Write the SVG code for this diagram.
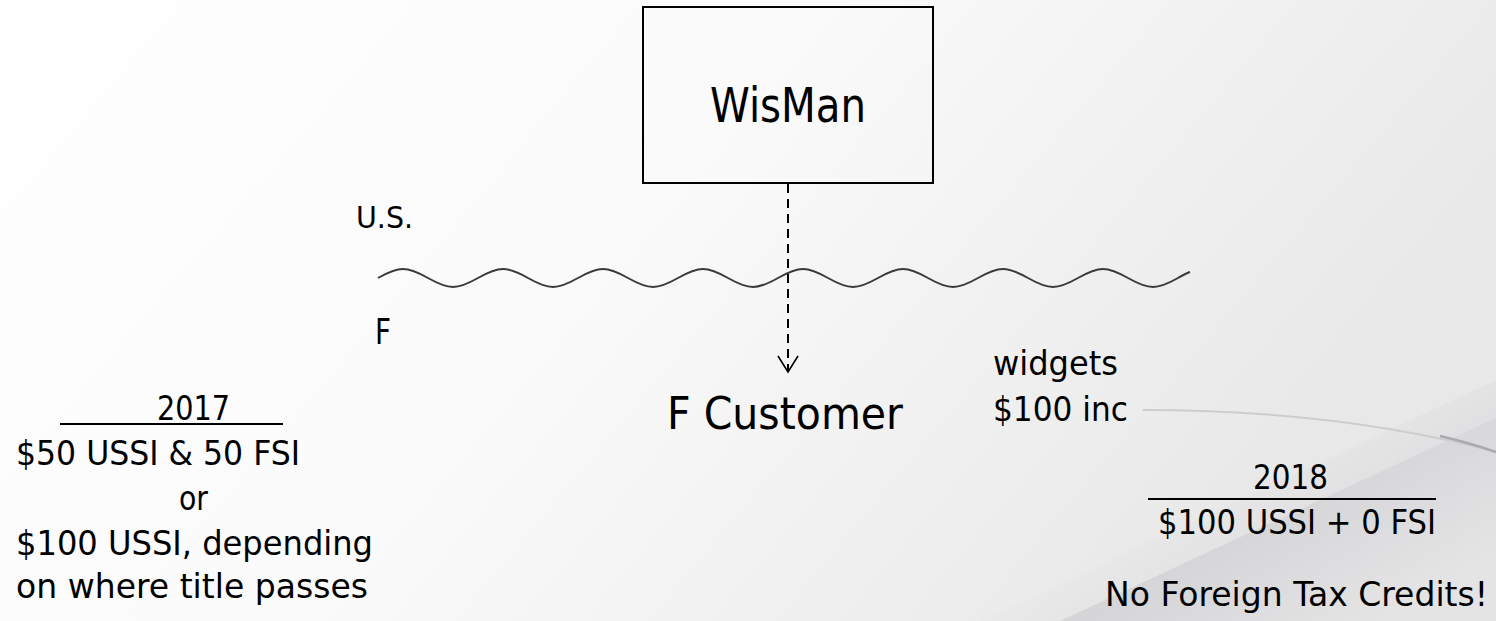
<svg xmlns="http://www.w3.org/2000/svg" width="1496" height="621" viewBox="0 0 1496 621">
  <defs>
    <linearGradient id="bg" x1="0" y1="0" x2="1" y2="0.35">
      <stop offset="0" stop-color="#ffffff"/>
      <stop offset="0.5" stop-color="#fafafa"/>
      <stop offset="1" stop-color="#e8e8e9"/>
    </linearGradient>
    <linearGradient id="band" gradientUnits="userSpaceOnUse" x1="1270" y1="520" x2="1340" y2="640">
      <stop offset="0" stop-color="#d6d6d9"/>
      <stop offset="1" stop-color="#e4e4e5"/>
    </linearGradient>
    <linearGradient id="upper" gradientUnits="userSpaceOnUse" x1="1150" y1="380" x2="1260" y2="560">
      <stop offset="0" stop-color="#f2f2f2" stop-opacity="0"/>
      <stop offset="1" stop-color="#dedee0" stop-opacity="0.8"/>
    </linearGradient>
    <marker id="openArrow" viewBox="0 0 18 22" refX="16" refY="11" markerWidth="18" markerHeight="22" markerUnits="userSpaceOnUse" orient="auto" overflow="visible">
      <path d="M0,1 L16,11 L0,21" fill="none" stroke="#000" stroke-width="1.6"/>
    </marker>
    <style>
      text { font-family: "DejaVu Sans", "Liberation Sans", sans-serif; fill: #000; }
      .node { fill: none; stroke: #000; stroke-width: 2; }
      .conn { fill: none; stroke: #000; stroke-width: 2; stroke-dasharray: 9 6; }
      .wave { fill: none; stroke: #3a3a3a; stroke-width: 2; }
      .rule { stroke: #000; stroke-width: 2; }
      .big { font-size: 34px; }
    </style>
  </defs>

  <!-- background -->
  <g id="background">
    <rect x="0" y="0" width="1496" height="621" fill="url(#bg)"/>
    <polygon points="980,621 1496,380 1496,621" fill="url(#upper)"/>
    <polygon points="1060,621 1496,418 1496,621" fill="url(#band)"/>
    <path d="M1143,410 Q1340,410 1496,452" fill="none" stroke="#cdcdcf" stroke-width="2"/>
    <path d="M1440,436 Q1470,443 1496,452" fill="none" stroke="#aaaaad" stroke-width="2.5"/>
  </g>

  <!-- border line U.S. / F -->
  <g id="border">
    <path class="wave" d="M378,278 C399.2,266 406.8,266 428,278 S456.8,290 478,278 S506.8,266 528,278 S556.8,290 578,278 S606.8,266 628,278 S656.8,290 678,278 S706.8,266 728,278 S756.8,290 778,278 S806.8,266 828,278 S856.8,290 878,278 S906.8,266 928,278 S956.8,290 978,278 S1006.8,266 1028,278 S1056.8,290 1078,278 S1106.8,266 1128,278 S1156.8,290 1178,278 C1182,275.7 1186,273.3 1190,272"/>
    <text id="label-us" x="356" y="228" font-size="30" textLength="57" lengthAdjust="spacingAndGlyphs">U.S.</text>
    <text id="label-f" x="375" y="344" font-size="36" textLength="16" lengthAdjust="spacingAndGlyphs">F</text>
  </g>

  <!-- nodes -->
  <g id="node-wisman">
    <rect class="node" x="643" y="7" width="290" height="176"/>
    <text x="710" y="122" font-size="48" textLength="156" lengthAdjust="spacingAndGlyphs">WisMan</text>
  </g>

  <g id="node-fcustomer">
    <text x="667" y="429" font-size="44" textLength="236" lengthAdjust="spacingAndGlyphs">F Customer</text>
  </g>

  <!-- connectors -->
  <g id="connectors">
    <line class="conn" x1="788" y1="184" x2="788" y2="372" marker-end="url(#openArrow)"/>
  </g>

  <!-- annotations -->
  <g id="note-widgets">
    <text class="big" x="993" y="375" textLength="125" lengthAdjust="spacingAndGlyphs">widgets</text>
    <text class="big" x="993" y="421" textLength="135" lengthAdjust="spacingAndGlyphs">$100 inc</text>
  </g>

  <g id="note-2017">
    <text class="big" x="157" y="420" textLength="73" lengthAdjust="spacingAndGlyphs">2017</text>
    <line class="rule" x1="60" y1="424" x2="283" y2="424"/>
    <text class="big" x="16" y="465" textLength="284" lengthAdjust="spacingAndGlyphs">$50 USSI &amp; 50 FSI</text>
    <text class="big" x="179" y="510" textLength="29" lengthAdjust="spacingAndGlyphs">or</text>
    <text class="big" x="16" y="555" textLength="357" lengthAdjust="spacingAndGlyphs">$100 USSI, depending</text>
    <text class="big" x="16" y="598" textLength="352" lengthAdjust="spacingAndGlyphs">on where title passes</text>
  </g>

  <g id="note-2018">
    <text class="big" x="1253" y="489" textLength="75" lengthAdjust="spacingAndGlyphs">2018</text>
    <line class="rule" x1="1148" y1="499" x2="1436" y2="499"/>
    <text class="big" x="1158" y="534" textLength="278" lengthAdjust="spacingAndGlyphs">$100 USSI + 0 FSI</text>
    <text class="big" x="1105" y="606" textLength="383" lengthAdjust="spacingAndGlyphs">No Foreign Tax Credits!</text>
  </g>
</svg>
